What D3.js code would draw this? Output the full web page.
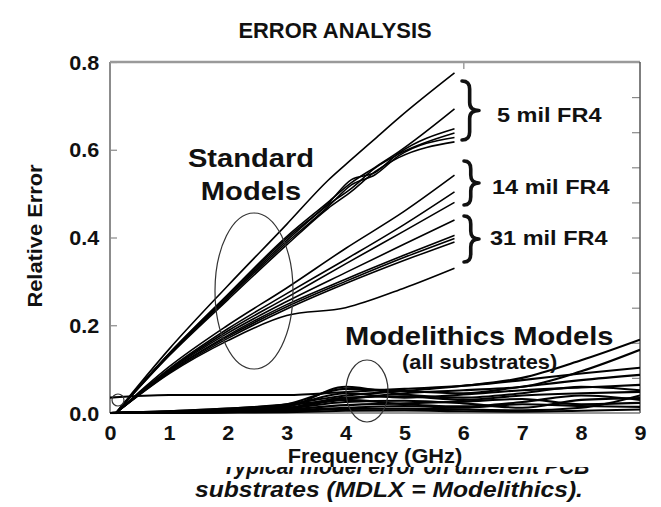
<!DOCTYPE html>
<html><head><meta charset="utf-8">
<script src="https://cdn.jsdelivr.net/npm/d3@7"></script>
<style>
body{margin:0;background:#fff}
svg{display:block}
text{font-family:"Liberation Sans",Arial,Helvetica,sans-serif;font-weight:bold;fill:#111}
</style>
</head><body>
<svg id="c" width="661" height="507"></svg>
<script>
// ---------- data ----------
const chartTitle = "ERROR ANALYSIS";
const xLabel = "Frequency (GHz)";
const yLabel = "Relative Error";
const xTickValues = [0,1,2,3,4,5,6,7,8,9];
const yTickValues = [0,0.2,0.4,0.6,0.8];
const rightTickValues = [0.08,0.16,0.24,0.32,0.40,0.48,0.56,0.64,0.72];
const topTickValues = [6];
const captionLines = ["Typical model error on different PCB", "substrates (MDLX = Modelithics)."];

// Standard models, 5 mil FR4
const freq5mil = [0.1, 1, 2, 3, 3.7, 4.1, 4.5, 4.9, 5.85];
const std5mil = [
  [0, 0.145, 0.290, 0.430, 0.530, 0.578, 0.625, 0.672, 0.775],
  [0, 0.135, 0.270, 0.402, 0.480, 0.525, 0.560, 0.595, 0.693],
  [0, 0.135, 0.268, 0.398, 0.477, 0.532, 0.548, 0.592, 0.648],
  [0, 0.133, 0.265, 0.393, 0.474, 0.512, 0.558, 0.590, 0.638],
  [0, 0.132, 0.262, 0.388, 0.470, 0.520, 0.543, 0.586, 0.628],
  [0, 0.130, 0.258, 0.383, 0.466, 0.505, 0.550, 0.582, 0.618]
];
// Standard models, 14 mil and 31 mil FR4
const freqThick = [0.1, 1, 2, 3, 4, 5, 5.85];
const std14and31mil = [
  [0, 0.105, 0.200, 0.285, 0.375, 0.460, 0.542],
  [0, 0.100, 0.192, 0.272, 0.350, 0.430, 0.504],
  [0, 0.098, 0.187, 0.263, 0.340, 0.415, 0.480],
  [0, 0.096, 0.182, 0.254, 0.320, 0.385, 0.440],
  [0, 0.094, 0.177, 0.247, 0.305, 0.360, 0.405],
  [0, 0.093, 0.174, 0.242, 0.300, 0.355, 0.398],
  [0, 0.091, 0.170, 0.237, 0.295, 0.348, 0.390],
  [0, 0.089, 0.165, 0.222, 0.240, 0.285, 0.330]
];
// Modelithics models (all substrates)
const freqMdlx = [0, 1, 2, 3, 4, 5, 6, 7, 8, 9];
const mdlx = [
  [0, 0.004, 0.010, 0.020, 0.040, 0.050, 0.062, 0.080, 0.120, 0.167],
  [0, 0.004, 0.010, 0.018, 0.032, 0.045, 0.052, 0.060, 0.095, 0.144],
  [0.035, 0.041, 0.041, 0.041, 0.048, 0.055, 0.062, 0.075, 0.090, 0.103],
  [0, 0.003, 0.008, 0.020, 0.055, 0.050, 0.045, 0.060, 0.075, 0.087],
  [0, 0.003, 0.006, 0.016, 0.045, 0.035, 0.042, 0.052, 0.058, 0.064],
  [0, 0.002, 0.005, 0.012, 0.035, 0.038, 0.030, 0.040, 0.045, 0.048],
  [0, 0.002, 0.004, 0.010, 0.025, 0.028, 0.022, 0.012, 0.030, 0.034],
  [0, 0.001, 0.003, 0.008, 0.018, 0.022, 0.026, 0.032, 0.020, 0.023],
  [0, 0.001, 0.002, 0.006, 0.012, 0.016, 0.012, 0.020, 0.016, 0.014],
  [0, 0.001, 0.002, 0.004, 0.009, 0.010, 0.008, 0.006, 0.012, 0.040],
  [0, 0.000, 0.001, 0.002, 0.005, 0.006, 0.004, 0.003, 0.005, 0.008],
  [0, 0.002, 0.006, 0.014, 0.060, 0.042, 0.035, 0.045, 0.060, 0.052],
  [0, 0.001, 0.004, 0.010, 0.030, 0.020, 0.015, 0.025, 0.040, 0.030]
];

// ---------- drawing ----------
const SX = 1.12; // horizontal stretch of the scanned lettering
const svg = d3.select("#c");
const x = d3.scaleLinear().domain([0, 9]).range([110, 640]);
const y = d3.scaleLinear().domain([0, 0.8]).range([413, 62]);

function label(str, px, py, size, anchor, sx) {
  return svg.append("text")
    .attr("transform", `translate(${px},${py}) scale(${sx || SX},1)`)
    .attr("font-size", size)
    .attr("text-anchor", anchor || "start")
    .text(str);
}

// clip for plot
svg.append("clipPath").attr("id", "plot").append("rect")
  .attr("x", x(0)).attr("y", y(0.8)).attr("width", x(9) - x(0)).attr("height", y(0) - y(0.8) + 2);

// axes (ticks)
const gy = svg.append("g").attr("transform", `translate(${x(0)},0)`)
  .call(d3.axisLeft(y).tickValues(yTickValues).tickFormat(d3.format(".1f")).tickSize(-7).tickPadding(10));
const gx = svg.append("g").attr("transform", `translate(0,${y(0)})`)
  .call(d3.axisBottom(x).tickValues(xTickValues).tickFormat(d3.format("d")).tickSize(0).tickPadding(13));
const gr = svg.append("g").attr("transform", `translate(${x(9)},0)`)
  .call(d3.axisRight(y).tickValues(rightTickValues).tickSize(-8).tickFormat(""));
const gt = svg.append("g").attr("transform", `translate(0,${y(0.8)})`)
  .call(d3.axisTop(x).tickValues(topTickValues).tickSize(-7).tickFormat(""));
[gy, gx, gr, gt].forEach(g => {
  g.select(".domain").remove();
  g.selectAll(".tick line").attr("stroke", "#888").attr("stroke-width", 1.2);
  g.selectAll("text").attr("font-size", 20).attr("fill", "#111")
    .attr("font-family", '"Liberation Sans",Arial,sans-serif').attr("font-weight", "bold");
});
gy.selectAll(".tick text").attr("transform", `scale(1.08,1)`).attr("dy", "0.36em");
gx.selectAll(".tick text").attr("transform", `scale(1.08,1)`);

// frame
svg.append("line").attr("x1", x(0)).attr("x2", x(0)).attr("y1", y(0.8)).attr("y2", y(0))
  .attr("stroke", "#8c8c8c").attr("stroke-width", 2);
svg.append("line").attr("x1", x(0)).attr("x2", x(9)).attr("y1", y(0.8)).attr("y2", y(0.8))
  .attr("stroke", "#9a9a9a").attr("stroke-width", 2.5);
svg.append("line").attr("x1", x(9)).attr("x2", x(9)).attr("y1", y(0.8)).attr("y2", y(0))
  .attr("stroke", "#555").attr("stroke-width", 1.5);
svg.append("line").attr("x1", x(0)).attr("x2", x(9)).attr("y1", y(0)).attr("y2", y(0))
  .attr("stroke", "#777").attr("stroke-width", 1.5);

// lines
const lineGen = (freqs) => d3.line()
  .x((d, i) => x(freqs[i])).y(d => y(d)).curve(d3.curveMonotoneX);
const gLines = svg.append("g").attr("clip-path", "url(#plot)").attr("fill", "none").attr("stroke", "#000");
gLines.selectAll(".s5").data(std5mil).join("path").attr("d", lineGen(freq5mil)).attr("stroke-width", 1.6);
gLines.selectAll(".s14").data(std14and31mil).join("path").attr("d", lineGen(freqThick)).attr("stroke-width", 1.6);
gLines.selectAll(".md").data(mdlx).join("path").attr("d", lineGen(freqMdlx)).attr("stroke-width", 2.1);

// annotations: ellipses and circle
svg.append("ellipse").attr("cx", 254).attr("cy", 291).attr("rx", 39).attr("ry", 78)
  .attr("fill", "none").attr("stroke", "#333").attr("stroke-width", 1.2);
svg.append("ellipse").attr("cx", 367).attr("cy", 391).attr("rx", 21).attr("ry", 31)
  .attr("fill", "none").attr("stroke", "#333").attr("stroke-width", 1.2);
svg.append("circle").attr("cx", 118).attr("cy", 400).attr("r", 6)
  .attr("fill", "none").attr("stroke", "#333").attr("stroke-width", 1.2);

// braces
function brace(a, t, u, b) {
  const c = a + (b - a) * 0.45, m = (t + u) / 2, k = 8;
  const p = `M${a},${t} Q${c},${t} ${c},${t + k} L${c},${m - k} Q${c},${m} ${b},${m} ` +
            `Q${c},${m} ${c},${m + k} L${c},${u - k} Q${c},${u} ${a},${u}`;
  svg.append("path").attr("d", p).attr("fill", "none").attr("stroke", "#111")
    .attr("stroke-width", 3.6).attr("stroke-linecap", "round").attr("stroke-linejoin", "round");
}
brace(462, 81, 140, 479);
brace(464, 161, 205, 479);
brace(464, 216, 262, 479);

// texts
label(chartTitle, 335, 38, 21.5, "middle", 1.02);
label(xLabel, 375, 463, 19.5, "middle").attr("fill", "#222");
svg.append("text").attr("transform", `translate(42,236) rotate(-90) scale(${SX},1)`)
  .attr("font-size", 19.5).attr("text-anchor", "middle").text(yLabel);
label("Standard", 251, 167, 26, "middle");
label("Models", 251, 200, 26, "middle");
label("5 mil FR4", 497, 122, 21, "start");
label("14 mil FR4", 492, 194, 21, "start");
label("31 mil FR4", 490, 245, 21, "start");
label("Modelithics Models", 345, 345, 26, "start");
label("(all substrates)", 402, 369, 19.5, "start");

// caption (first line partly hidden behind the axis title area)
svg.append("clipPath").attr("id", "cap").append("rect").attr("x", 0).attr("y", 467).attr("width", 661).attr("height", 40);
svg.append("g").attr("clip-path", "url(#cap)").append("text")
  .attr("transform", `translate(406,474) scale(0.96,1)`)
  .attr("font-size", 22).attr("font-style", "italic").attr("text-anchor", "middle").text(captionLines[0]);
label(captionLines[1], 389, 497, 22, "middle").attr("font-style", "italic");
</script>
</body></html>
